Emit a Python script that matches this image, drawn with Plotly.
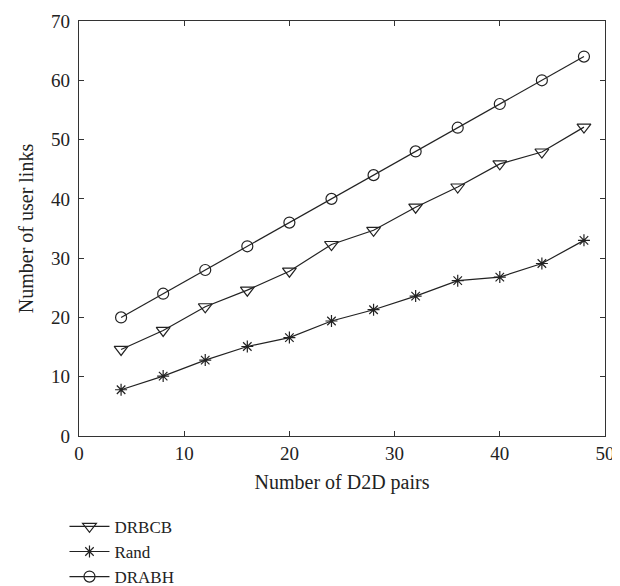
import plotly.graph_objects as go

d2d_pairs = [4, 8, 12, 16, 20, 24, 28, 32, 36, 40, 44, 48]
drbcb = [14.6, 17.8, 21.8, 24.6, 27.8, 32.3, 34.7, 38.6, 42.0, 45.9, 47.9, 52.1]
rand = [7.8, 10.1, 12.8, 15.1, 16.6, 19.4, 21.3, 23.6, 26.2, 26.8, 29.1, 33.0]
drabh = [20, 24, 28, 32, 36, 40, 44, 48, 52, 56, 60, 64]

x_ticks = [0, 10, 20, 30, 40, 50]
y_ticks = [0, 10, 20, 30, 40, 50, 60, 70]

FONT = "Liberation Serif"
INK = "#222222"

fig = go.Figure()
series = [
    ("DRBCB", drbcb, "triangle-down-open", 12),
    ("Rand", rand, "asterisk-open", 10),
    ("DRABH", drabh, "circle-open", 11),
]
for name, vals, sym, sz in series:
    fig.add_trace(go.Scatter(
        x=d2d_pairs, y=vals, name=name, mode="lines+markers",
        line=dict(color=INK, width=1.2),
        marker=dict(symbol=sym, size=sz, color=INK, line=dict(color=INK, width=1.2)),
    ))

axis_common = dict(
    showgrid=False, zeroline=False, showline=True, linecolor="#333333", linewidth=1.2,
    mirror="ticks", ticks="inside", ticklen=5, tickcolor="#333333", tickwidth=1,
    tickfont=dict(family=FONT, size=19, color=INK), automargin=False,
)

fig.update_layout(
    width=620, height=586,
    margin=dict(l=71, r=23, t=13, b=158, autoexpand=False),
    paper_bgcolor="white", plot_bgcolor="white",
    font=dict(family=FONT, size=19, color=INK),
    xaxis=dict(range=[0, 50], tickvals=x_ticks,
               title=dict(text="Number of D2D pairs", font=dict(family=FONT, size=20, color=INK), standoff=12),
               **axis_common),
    yaxis=dict(range=[0, 70], tickvals=y_ticks, ticklabelstandoff=4,
               title=dict(text="Number of user links", font=dict(family=FONT, size=20, color=INK), standoff=12),
               **axis_common),
    showlegend=True,
    legend=dict(x=-0.0276, xanchor="left", y=-0.1755, yanchor="top",
                font=dict(family=FONT, size=17, color=INK),
                bgcolor="rgba(0,0,0,0)", tracegroupgap=0, itemwidth=40),
)

fig.write_html("out.html")
